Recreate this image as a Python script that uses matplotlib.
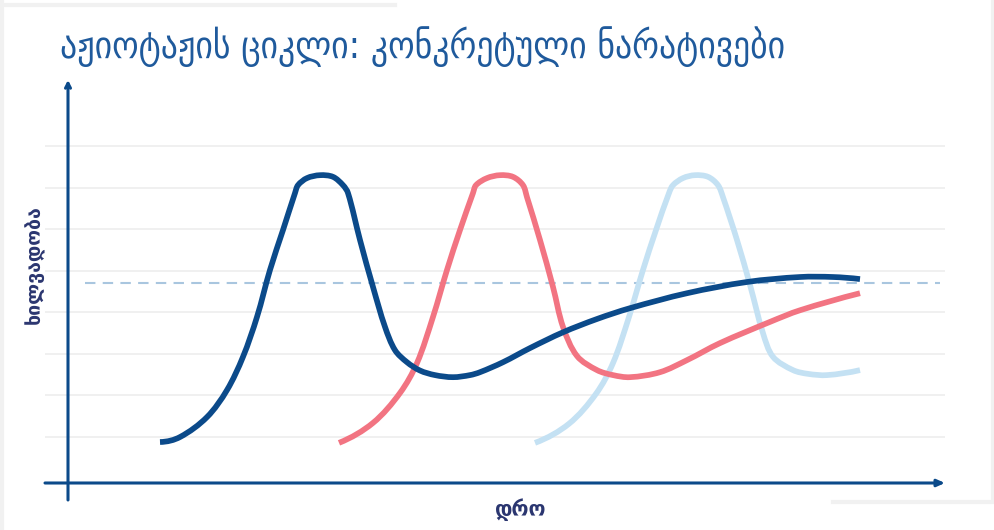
import numpy as np
import matplotlib.pyplot as plt
from matplotlib.lines import Line2D
from matplotlib.path import Path
from matplotlib.patches import PathPatch

# time (weeks) vs. visibility (%) for three narratives
blue_t = [9.2, 11.2, 13.9, 15.9, 17.5, 18.9, 20.2, 21.5, 22.7, 23.0, 23.9, 25.2, 26.5,
          27.5, 28.0, 29.2, 30.5, 31.7, 32.7, 33.9, 35.2, 36.7, 38.5, 40.2, 41.2, 43.5,
          46.2, 49.5, 52.9, 56.2, 61.9, 67.9, 73.2, 76.5, 79.2]
blue_v = [8.8, 10.0, 14.8, 21.3, 29.3, 38.9, 50.2, 59.8, 68.7, 70.6, 72.3, 73.0, 72.6,
          70.6, 68.7, 57.4, 46.1, 36.5, 30.9, 28.0, 26.0, 24.9, 24.4, 24.9, 25.6, 28.0,
          31.4, 35.2, 38.4, 41.0, 44.6, 47.3, 48.5, 48.5, 48.0]

coral_t = [27.1, 30.5, 33.2, 34.9, 36.5, 37.9, 39.2, 40.5, 40.8, 41.9, 43.2, 44.5,
           45.5, 45.9, 47.2, 48.5, 49.5, 50.9, 52.9, 54.5, 56.2, 59.2, 61.9, 65.2, 70.2,
           73.2, 79.2]
coral_v = [8.6, 13.4, 20.6, 27.8, 38.9, 50.2, 59.8, 68.7, 70.6, 72.3, 73.0, 72.6,
           70.6, 67.7, 57.4, 46.1, 36.5, 29.5, 26.1, 24.9, 24.4, 25.6, 28.5, 32.6, 37.7,
           40.5, 44.6]

light_t = [46.7, 50.1, 52.8, 54.5, 56.1, 57.5, 58.8, 60.1, 60.5, 61.5, 62.7,
           64.0, 65.0, 65.5, 66.9, 68.2, 69.5, 70.5, 72.5, 74.0, 75.9, 79.2]
light_v = [8.6, 13.2, 20.4, 27.8, 38.9, 50.2, 59.8, 68.7, 70.6, 72.3, 73.0,
           72.6, 70.6, 67.7, 57.4, 46.6, 35.0, 29.3, 26.1, 25.2, 24.9, 26.1]

threshold = 47.0
grid_levels = [10, 20, 30, 40, 50, 60, 70, 80]

title = "აჟიოტაჟის ციკლი: კონკრეტული ნარატივები"
x_label = "დრო"
y_label = "ხილვადობა"

navy = "#0b4a8a"
coral = "#f27482"
sky = "#c4e1f3"
dash_blue = "#a9c6df"
label_ink = "#2b3670"
title_ink = "#1f5a9c"
grid_gray = "#ececec"
frame_gray = "#f1f1f1"

fig = plt.figure(figsize=(9.95, 5.30), dpi=100, facecolor="white")
ax = fig.add_axes([45 / 995, 30 / 530, 900 / 995, 420 / 530])
ax.set_xlim(-2.3, 87.7)
ax.set_ylim(-5.15, 95.9)
ax.axis("off")


def smooth_path(t, v):
    """Cubic Bezier path through every point (chord-length Catmull-Rom)."""
    pts = ax.transData.transform(np.column_stack([t, v]))
    n = len(pts)
    d = np.linalg.norm(np.diff(pts, axis=0), axis=1)
    tang = np.zeros_like(pts)
    for i in range(1, n - 1):
        tang[i] = (pts[i + 1] - pts[i - 1]) / (d[i - 1] + d[i])
    # parabolic end conditions so the ends bend smoothly
    tang[0] = 2 * (pts[1] - pts[0]) / d[0] - tang[1]
    tang[-1] = 2 * (pts[-1] - pts[-2]) / d[-1] - tang[-2]
    verts = [pts[0]]
    codes = [Path.MOVETO]
    for i in range(n - 1):
        verts += [pts[i] + tang[i] * d[i] / 3, pts[i + 1] - tang[i + 1] * d[i] / 3, pts[i + 1]]
        codes += [Path.CURVE4] * 3
    verts = ax.transData.inverted().transform(np.array(verts))
    return Path(verts, codes)


# light horizontal guides
ax.hlines(grid_levels, -2.3, 87.7, color=grid_gray, linewidth=1.1, zorder=1)

# reference level
ax.plot([1.7, 87.2], [threshold, threshold], color=dash_blue, linewidth=1.5,
        dashes=(5, 3.5), zorder=2)

# narrative curves, later ones on top
for t, v, c in [(light_t, light_v, sky), (coral_t, coral_v, coral), (blue_t, blue_v, navy)]:
    ax.add_patch(PathPatch(smooth_path(t, v), facecolor="none", edgecolor=c,
                           linewidth=4.1, capstyle="butt", joinstyle="round", zorder=3))

# axes with arrows
ax.annotate("", xy=(87.7, -1.06), xytext=(-2.3, -1.06),
            arrowprops=dict(arrowstyle="-|>,head_length=0.45,head_width=0.2",
                            color=navy, linewidth=2.2, shrinkA=0, shrinkB=0),
            annotation_clip=False, zorder=4)
ax.annotate("", xy=(0, 95.9), xytext=(0, -5.15),
            arrowprops=dict(arrowstyle="->,head_length=0.35,head_width=0.18",
                            color=navy, linewidth=2.2, shrinkA=0, shrinkB=0),
            annotation_clip=False, zorder=4)

fig.text(60 / 995, 1 - 47 / 530, title, fontsize=27, color=title_ink,
         family="DejaVu Sans", fontstretch="condensed",
         ha="left", va="center")
fig.text(35 / 995, 1 - 265 / 530, y_label, fontsize=14, color=label_ink,
         fontweight="bold", rotation=90, ha="center", va="center")
fig.text(521 / 995, 1 - 510 / 530, x_label, fontsize=15, color=label_ink,
         fontweight="bold", ha="center", va="center")

# faint page frame
for xs, ys in [((0, 395), (525, 525)), ((2, 2), (0, 530)), ((993, 993), (30, 530)),
               ((833, 993), (28, 28))]:
    fig.add_artist(Line2D([x / 995 for x in xs], [y / 530 for y in ys],
                          color=frame_gray, linewidth=3))

fig.savefig("out.png", dpi=100, facecolor="white")
